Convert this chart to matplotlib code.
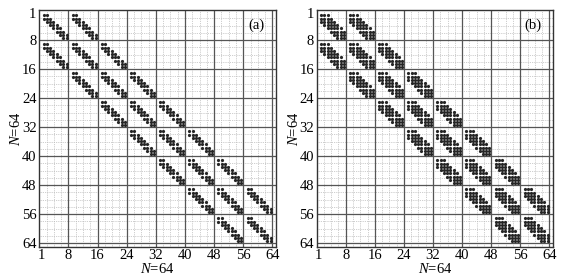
import numpy as np
import matplotlib
matplotlib.use("Agg")
import matplotlib.pyplot as plt

plt.rcParams['font.family'] = ['Liberation Serif', 'DejaVu Serif']
plt.rcParams['mathtext.fontset'] = 'custom'
plt.rcParams['mathtext.it'] = 'Liberation Serif:italic'
plt.rcParams['mathtext.rm'] = 'Liberation Serif'

# matrix size and block structure (block tridiagonal, 8 blocks of 8)
N = 64
block_size = 8
block_diagonals = [-1, 0, 1]
# band offsets of the nonzeros inside each block, for panel (a) and (b)
inner_offsets_a = [-1, 0, 1]
inner_offsets_b = [-2, -1, 0, 1, 2]
tick_values = [1, 8, 16, 24, 32, 40, 48, 56, 64]
panel_labels = ["(a)", "(b)"]


def pattern(inner_offsets):
    # returns (block, local) index pairs for rows and cols
    rows, cols = [], []
    nb = N // block_size
    for bi in range(nb):
        for d in block_diagonals:
            bj = bi + d
            if bj < 0 or bj >= nb:
                continue
            for i in range(block_size):
                for k in inner_offsets:
                    j = i + k
                    if 0 <= j < block_size:
                        rows.append((bi, i))
                        cols.append((bj, j))
    return np.array(rows), np.array(cols)


def to_pos(idx):
    # place the entries of one block inside its grid cell
    return idx[:, 0] * block_size + 1.2 + idx[:, 1] * 0.9


fig = plt.figure(figsize=(5.66, 2.77), dpi=100)
ax_a = fig.add_axes([0.0693, 0.1094, 0.4184, 0.8545])
ax_b = fig.add_axes([0.5595, 0.1094, 0.4175, 0.8545])

tick_pos = [0.5] + tick_values[1:]

for ax, offs, lab in zip([ax_a, ax_b], [inner_offsets_a, inner_offsets_b], panel_labels):
    r, c = pattern(offs)
    ax.set_xlim(0, 65)
    ax.set_ylim(65, -0.3)
    # minor dotted grid
    for v in range(2, 64, 2):
        if v % 8 == 0:
            continue
        ax.axvline(v, color='#bcbcbc', lw=0.6, ls=(0, (1, 1.2)), zorder=1)
        ax.axhline(v, color='#bcbcbc', lw=0.6, ls=(0, (1, 1.2)), zorder=1)
    for v in range(8, 65, 8):
        ax.axvline(v, color='#555555', lw=0.9, zorder=2)
        ax.axhline(v, color='#555555', lw=0.9, zorder=2)
    ax.plot(to_pos(c), to_pos(r), 'o', color='#262626', ms=2.3, mew=0, zorder=3)
    ax.set_xticks(tick_pos)
    ax.set_xticklabels(tick_values)
    ax.set_yticks(tick_pos)
    ax.set_yticklabels(tick_values)
    ax.tick_params(length=0, labelsize=10.5, pad=2)
    for s in ax.spines.values():
        s.set_color('#333333')
        s.set_linewidth(1.0)
    ax.set_xlabel('$N$=64', fontsize=10.5, labelpad=0)
    ax.set_ylabel('$N$=64', fontsize=10.5, labelpad=-1)
    ax.text(59.5, 4, lab, fontsize=10.5, ha='center', va='center')

plt.savefig("out.png", dpi=100)
